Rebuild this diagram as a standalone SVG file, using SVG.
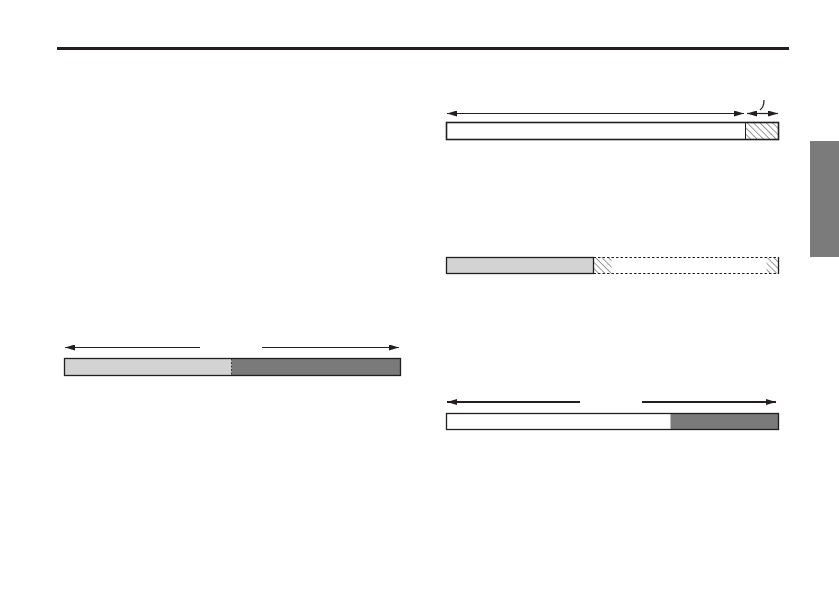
<svg xmlns="http://www.w3.org/2000/svg" width="839" height="595" viewBox="0 0 839 595">
<style>
.bar{stroke:#231f20;stroke-width:1.3}
.arr{stroke:#231f20;stroke-width:1.2;fill:none}
.arrb{stroke:#231f20;stroke-width:2;fill:none}
.dash{stroke:#231f20;stroke-width:1;stroke-dasharray:2.5,2}
</style>
<defs>
<pattern id="hatch" patternUnits="userSpaceOnUse" width="4.5" height="4.5" patternTransform="rotate(-45)">
<line x1="0" y1="0" x2="0" y2="4.5" stroke="#231f20" stroke-width="0.9"/>
</pattern>
<marker id="ah" viewBox="0 0 10 6" refX="10" refY="3" markerWidth="10" markerHeight="6" markerUnits="userSpaceOnUse" orient="auto-start-reverse">
<path d="M0,0 L10,3 L0,6 Z" fill="#231f20"/>
</marker>
</defs>
<rect width="839" height="595" fill="#fff"/>
<rect x="57" y="47" width="732" height="3" fill="#231f20"/>
<rect x="810" y="141" width="29" height="116" fill="#7b7b7b"/>

<g id="bar-left">
<rect x="64.5" y="358.5" width="167" height="17" fill="#d3d3d3"/>
<rect x="231.5" y="358.5" width="169" height="17" fill="#7a7a7a"/>
<rect x="64.5" y="358.5" width="336" height="17" fill="none" class="bar"/>
<line x1="231.5" y1="358.5" x2="231.5" y2="375.5" stroke="#231f20" stroke-width="0.8" stroke-dasharray="2,1.5"/>
</g>

<g id="bar-top-right">
<rect x="446.5" y="122.5" width="332" height="17" fill="#fff"/>
<rect x="745.5" y="122.5" width="33" height="17" fill="url(#hatch)" stroke="#231f20" stroke-width="1"/>
<rect x="446.5" y="122.5" width="332" height="17" fill="none" stroke="#231f20" stroke-width="1.6"/>
</g>

<g id="bar-mid-right">
<rect x="446.5" y="257.5" width="147" height="16" fill="#d3d3d3" class="bar"/>
<rect x="593.5" y="257.5" width="18" height="16" fill="url(#hatch)"/>
<rect x="766.5" y="257.5" width="12" height="16" fill="url(#hatch)"/>
<line x1="593.5" y1="257.5" x2="778" y2="257.5" class="dash"/>
<line x1="593.5" y1="273.5" x2="778" y2="273.5" class="dash"/>
<line x1="778.5" y1="257" x2="778.5" y2="274" stroke="#231f20" stroke-width="1.3"/>
</g>

<g id="bar-bottom-right">
<rect x="446.5" y="413.5" width="224" height="16" fill="#fff"/>
<rect x="670.5" y="413.5" width="108" height="16" fill="#7a7a7a"/>
<rect x="446.5" y="413.5" width="332" height="16" fill="none" class="bar"/>
</g>

<g id="connectors">
<line x1="65" y1="347.5" x2="200" y2="347.5" class="arr" marker-start="url(#ah)"/>
<line x1="262" y1="347.5" x2="399" y2="347.5" class="arr" marker-end="url(#ah)"/>
<line x1="447" y1="113.5" x2="744" y2="113.5" class="arr" marker-start="url(#ah)" marker-end="url(#ah)"/>
<line x1="747" y1="113.5" x2="778" y2="113.5" class="arr" marker-start="url(#ah)" marker-end="url(#ah)"/>
<path d="M764,100 C764,104 763,108 760,110" class="arr"/>
<line x1="447" y1="402" x2="580" y2="402" class="arrb" marker-start="url(#ah)"/>
<line x1="642" y1="402" x2="776" y2="402" class="arrb" marker-end="url(#ah)"/>
</g>
</svg>
